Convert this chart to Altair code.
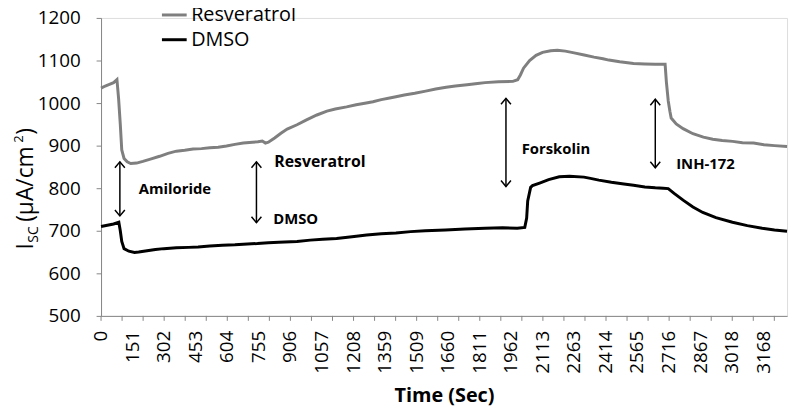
import altair as alt
import pandas as pd

# ---------------- data ----------------
res_t = [0, 20, 40, 60, 76, 84, 92, 99, 110, 125, 142, 170, 200, 240, 280, 320, 360, 400, 440, 480,
         520, 560, 600, 640, 680, 724, 750, 771, 786, 800, 830, 860, 890, 937, 980, 1032, 1080, 1120,
         1174, 1220, 1268, 1300, 1340, 1380, 1410, 1450, 1500, 1552, 1600, 1650, 1694, 1750, 1800,
         1836, 1900, 1969, 1992, 2005, 2020, 2049, 2080, 2111, 2150, 2182, 2220, 2262, 2310, 2357,
         2400, 2428, 2480, 2546, 2600, 2650, 2697, 2703, 2712, 2720, 2726, 2750, 2783, 2830, 2880,
         2925, 2970, 3020, 3067, 3120, 3170, 3220, 3280]
res_v = [1035, 1040, 1044, 1048, 1055, 1010, 950, 890, 870, 862, 858, 859, 863, 869, 875, 882, 887, 889,
         892, 893, 895, 896, 899, 903, 906, 908, 909, 911, 906, 908, 918, 929, 939, 949, 960, 972, 981,
         986, 991, 996, 1000, 1003, 1008, 1012, 1015, 1019, 1023, 1028, 1033, 1037, 1040, 1043, 1046,
         1048, 1050, 1051, 1055, 1066, 1082, 1100, 1112, 1119, 1123, 1124, 1122, 1118, 1113, 1108,
         1104, 1101, 1097, 1093, 1092, 1091, 1091, 1050, 1005, 980, 965, 951, 940, 928, 920, 915,
         912, 910, 907, 906, 902, 900, 898]

dmso_t = [0, 30, 60, 85, 92, 99, 110, 133, 160, 180, 220, 260, 300, 360, 420, 464, 520, 580, 640, 700,
          748, 800, 850, 937, 1000, 1060, 1126, 1200, 1270, 1340, 1410, 1480, 1550, 1647, 1740, 1836,
          1920, 1990, 2026, 2035, 2040, 2054, 2063, 2097, 2140, 2191, 2240, 2309, 2340, 2380, 2440,
          2500, 2546, 2600, 2650, 2688, 2712, 2740, 2783, 2830, 2877, 2940, 3019, 3090, 3161, 3220, 3280]
dmso_v = [710, 713, 716, 720, 700, 675, 658, 652, 649, 650, 653, 656, 658, 660, 661, 662, 664, 666, 667,
          669, 670, 672, 673, 675, 678, 680, 682, 686, 690, 693, 695, 698, 700, 702, 704, 706, 707, 706,
          708, 730, 770, 802, 806, 812, 820, 827, 828, 826, 823, 819, 814, 810, 807, 803, 801, 800, 799,
          788, 772, 756, 743, 731, 720, 712, 706, 702, 699]

series_names = ["Resveratrol", "DMSO"]
series_colors = ["#7f7f7f", "#000000"]

x_labels = [0, 151, 302, 453, 604, 755, 906, 1057, 1208, 1359, 1509, 1660, 1811, 1962, 2113, 2263,
            2414, 2565, 2716, 2867, 3018, 3168]
x_ticks = [round(k * 100.6, 1) for k in range(33)]
y_ticks = [500, 600, 700, 800, 900, 1000, 1100, 1200]

# annotations (arrows: time, top value, bottom value)
arrow_t = [90, 743, 1936, 2650]
arrow_top = [862, 862, 1011, 1009]
arrow_bot = [735, 719, 804, 848]

note_text = ["Amiloride", "Resveratrol", "DMSO", "Forskolin", "INH-172"]
note_t = [180, 828, 823, 2011, 2750]
note_v = [799, 862, 728, 891, 857]
note_size = [15, 16, 15, 15, 15]

# ---------------- build ----------------
FONT = "Open Sans"
W, H = 693, 301
XMAX = 3280

df = pd.concat([
    pd.DataFrame({"t": res_t, "v": res_v, "s": "Resveratrol"}),
    pd.DataFrame({"t": dmso_t, "v": dmso_v, "s": "DMSO"}),
])

xscale = alt.Scale(domain=[0, XMAX], nice=False, zero=False)
yscale = alt.Scale(domain=[500, 1200], nice=False, zero=False)

x_axis = alt.Axis(values=x_labels, labels=False, ticks=False, grid=False, domainColor="#868686",
                  title="Time (Sec)", titleFont=FONT, titleFontSize=20, titleFontWeight="bold",
                  titleColor="black", titleBaseline="middle", titleY=80)

lines = alt.Chart(df).mark_line(strokeWidth=3).encode(
    x=alt.X("t:Q", scale=xscale, axis=x_axis),
    y=alt.Y("v:Q", scale=yscale,
            axis=alt.Axis(values=y_ticks, format="d", labelFontSize=19, labelFont=FONT,
                          labelColor="black", tickSize=5, tickColor="#868686", domainColor="#868686",
                          labelPadding=16, grid=False, title=None, labelOverlap=False)),
    color=alt.Color("s:N", scale=alt.Scale(domain=series_names, range=series_colors),
                    legend=alt.Legend(title=None, orient="none", legendX=60, legendY=-17, padding=0,
                                      symbolType="stroke", symbolSize=625, symbolStrokeWidth=3,
                                      labelFontSize=20, labelFont=FONT, labelColor="black",
                                      rowPadding=1, labelOffset=3)),
    order=alt.Order("t:Q"),
)

X = alt.X("t:Q", scale=xscale)

tick_df = pd.DataFrame({"t": x_ticks})
minor_ticks = alt.Chart(tick_df).mark_rule(color="#868686", strokeWidth=1).encode(
    x=X, y=alt.value(H), y2=alt.value(H + 5))

lab_df = pd.DataFrame({"t": x_labels, "lab": [str(v) for v in x_labels]})
x_label_marks = alt.Chart(lab_df).mark_text(angle=270, align="right", baseline="middle", fontSize=19,
                                            font=FONT, color="black").encode(
    x=X, y=alt.value(H + 15), text="lab:N")

arr_df = pd.DataFrame({"t": arrow_t, "top": arrow_top, "bot": arrow_bot})
arrow_lines = alt.Chart(arr_df).mark_rule(color="black", strokeWidth=1.5).encode(
    x=X, y=alt.Y("top:Q", scale=yscale), y2="bot:Q")
head_up = alt.Chart(arr_df).mark_point(shape="M -1 1.2 L 0 0 L 1 1.2", filled=False, color="black",
                                       strokeWidth=1.5, size=100, opacity=1).encode(
    x=X, y=alt.Y("top:Q", scale=yscale))
head_down = alt.Chart(arr_df).mark_point(shape="M -1 -1.2 L 0 0 L 1 -1.2", filled=False, color="black",
                                         strokeWidth=1.5, size=100, opacity=1).encode(
    x=X, y=alt.Y("bot:Q", scale=yscale))

note_df = pd.DataFrame({"txt": note_text, "t": note_t, "v": note_v, "fs": note_size})
notes = alt.Chart(note_df).mark_text(align="left", baseline="middle", fontWeight="bold", font=FONT,
                                     color="black").encode(
    x=X, y=alt.Y("v:Q", scale=yscale), text="txt:N",
    size=alt.Size("fs:Q", scale=None, legend=None))

one = pd.DataFrame({"a": [0]})


def ytitle(txt, px, py, fs):
    return alt.Chart(one).mark_text(text=txt, angle=270, align="left", baseline="alphabetic",
                                    fontSize=fs, font=FONT, color="black").encode(
        x=alt.value(px), y=alt.value(py))


title_parts = [
    ytitle("I", -69, 234, 23),
    ytitle("SC", -64, 227, 14),
    ytitle("(µA/cm", -69, 206, 23),
    ytitle("2", -79, 126, 13),
    ytitle(")", -69, 118, 23),
]

chart = alt.layer(lines, minor_ticks, x_label_marks, arrow_lines, head_up, head_down, notes,
                  *title_parts).properties(
    width=W, height=H,
    autosize=alt.AutoSizeParams(type="none"),
    padding={"left": 94, "top": 8, "right": 5, "bottom": 91},
).configure_view(stroke=None).configure(background="white")

chart.save("out.html", embed_options={"renderer": "svg", "actions": False})
